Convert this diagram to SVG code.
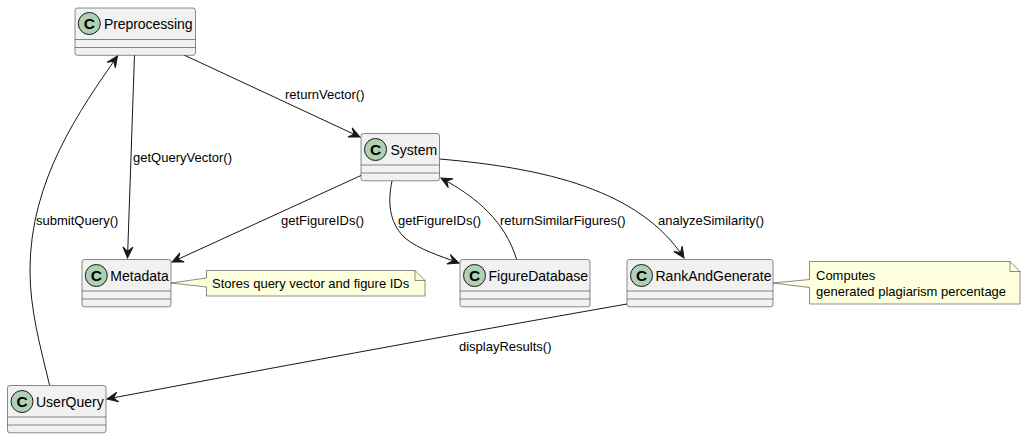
<svg xmlns="http://www.w3.org/2000/svg" width="1026" height="439" viewBox="0 0 1026 439">
<style>
.box{fill:#F1F1F1;stroke:#181818;stroke-width:.5}
.sep{stroke:#181818;stroke-width:.5;fill:none}
.spot{fill:#ADD1B2;stroke:#181818;stroke-width:1}
.c{font:bold 15.5px "Liberation Sans",Arial,sans-serif;fill:#000;text-anchor:middle}
.name{font:14px "Liberation Sans",Arial,sans-serif;fill:#000}
.lbl{font:13px "Liberation Sans",Arial,sans-serif;fill:#000}
.note{fill:#FEFFDD;stroke:#181818;stroke-width:.5}
.edge{fill:none;stroke:#181818;stroke-width:1;marker-end:url(#arrow)}
</style>
<defs>
<marker id="arrow" markerUnits="userSpaceOnUse" viewBox="-12 -7 14 14" refX="0" refY="0" markerWidth="14" markerHeight="14" orient="auto">
<path d="M0,0 L-11,-5 L-6.500,0 L-11,5 Z" fill="#181818" stroke="#181818" stroke-width="1"/>
</marker>
</defs>
<g id="connectors">
<path class="edge" d="M134.500,55 L127.500,258"/>
<path class="edge" d="M184,55 L360,137"/>
<path class="edge" d="M49.500,385 C40,345 30,310 30,270 C30,180 80,110 117.500,56"/>
<path class="edge" d="M361,175.500 L172,262"/>
<path class="edge" d="M392,181 C388,200 388,222 405,238 C418,249 440,256 459,263"/>
<path class="edge" d="M516.500,259 C505,222 478,198 441,178"/>
<path class="edge" d="M439.500,159 C545,168 640,190 684,258"/>
<path class="edge" d="M627,304 C450,335 250,372 107,399"/>
<text class="lbl" x="285" y="99">returnVector()</text>
<text class="lbl" x="133" y="162">getQueryVector()</text>
<text class="lbl" x="36" y="225">submitQuery()</text>
<text class="lbl" x="281" y="225">getFigureIDs()</text>
<text class="lbl" x="398" y="225">getFigureIDs()</text>
<text class="lbl" x="500" y="225">returnSimilarFigures()</text>
<text class="lbl" x="658" y="225">analyzeSimilarity()</text>
<text class="lbl" x="459" y="351">displayResults()</text>
</g>
<g id="Preprocessing">
<rect class="box" x="75" y="8" width="120.500" height="47.300" rx="2.500"/>
<path class="sep" d="M75,39.500H195.500M75,47.500H195.500"/>
<circle class="spot" cx="89.300" cy="23.500" r="11"/><text class="c" x="89.300" y="29">C</text>
<text class="name" x="104" y="29" textLength="88.500">Preprocessing</text>
</g>
<g id="System">
<rect class="box" x="361" y="133.500" width="78.500" height="47.300" rx="2.500"/>
<path class="sep" d="M361,165H439.500M361,173H439.500"/>
<circle class="spot" cx="375.500" cy="149.500" r="11"/><text class="c" x="375.500" y="155">C</text>
<text class="name" x="390.500" y="155">System</text>
</g>
<g id="Metadata">
<rect class="box" x="82" y="259.500" width="89" height="47.300" rx="2.500"/>
<path class="sep" d="M82,291H171M82,299H171"/>
<circle class="spot" cx="96.300" cy="275.500" r="11"/><text class="c" x="96.300" y="281">C</text>
<text class="name" x="110.300" y="281">Metadata</text>
</g>
<g id="FigureDatabase">
<rect class="box" x="460" y="259.500" width="130" height="47.300" rx="2.500"/>
<path class="sep" d="M460,291H590M460,299H590"/>
<circle class="spot" cx="474.500" cy="275.500" r="11"/><text class="c" x="474.500" y="281">C</text>
<text class="name" x="488.500" y="281">FigureDatabase</text>
</g>
<g id="RankAndGenerate">
<rect class="box" x="627" y="259.500" width="146" height="47.300" rx="2.500"/>
<path class="sep" d="M627,291H773M627,299H773"/>
<circle class="spot" cx="641.500" cy="275.500" r="11"/><text class="c" x="641.500" y="281">C</text>
<text class="name" x="655.500" y="281">RankAndGenerate</text>
</g>
<g id="UserQuery">
<rect class="box" x="7.500" y="385.500" width="98.500" height="47.300" rx="2.500"/>
<path class="sep" d="M7.500,417H106M7.500,425H106"/>
<circle class="spot" cx="22" cy="401.500" r="11"/><text class="c" x="22" y="407">C</text>
<text class="name" x="36" y="407">UserQuery</text>
</g>
<g id="note-metadata">
<path class="note" d="M206.500,270.500H415L425,280.500V296H206.500V287L171,283L206.500,278Z"/>
<path class="sep" d="M415,270.500V280.500H425"/>
<text class="lbl" x="212" y="288">Stores query vector and figure IDs</text>
</g>
<g id="note-rank">
<path class="note" d="M809.500,261.500H1010L1020,271.500V304H809.500V287.500L773,283L809.500,279.500Z"/>
<path class="sep" d="M1010,261.500V271.500H1020"/>
<text class="lbl" x="816" y="280">Computes</text>
<text class="lbl" x="816" y="296">generated plagiarism percentage</text>
</g>
</svg>
